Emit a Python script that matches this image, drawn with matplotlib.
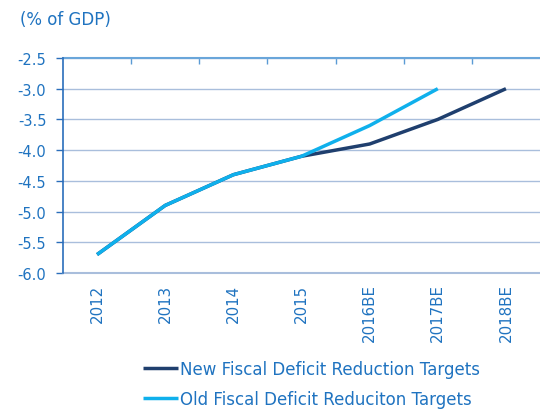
import matplotlib
matplotlib.use("Agg")
import matplotlib.pyplot as plt
from matplotlib.ticker import FixedLocator

plt.rcParams['font.family'] = ['DejaVu Sans']

categories = ["2012", "2013", "2014", "2015", "2016BE", "2017BE", "2018BE"]
new_targets = [-5.7, -4.9, -4.4, -4.1, -3.9, -3.5, -3.0]
old_targets = [-5.7, -4.9, -4.4, -4.1, -3.6, -3.0]
yticks = [-6.0, -5.5, -5.0, -4.5, -4.0, -3.5, -3.0, -2.5]

txt = '#1F73C0'
axis_blue = '#2A6EBB'
grid_c = '#A9BEDC'

fig = plt.figure(figsize=(5.4, 4.1), dpi=100)
ax = fig.add_axes([63/540, 1-274/410, 1-63/540, (274-59)/410])

x_new = list(range(len(new_targets)))
x_old = list(range(len(old_targets)))
ax.plot(x_new, new_targets, color='#1F3F6E', lw=2.5, solid_capstyle='butt',
        label='New Fiscal Deficit Reduction Targets', zorder=3)
ax.plot(x_old, old_targets, color='#0FB0EC', lw=2.5, solid_capstyle='butt',
        label='Old Fiscal Deficit Reduciton Targets', zorder=4)

ax.set_xlim(-0.5, len(categories)-0.5)
ax.set_ylim(-6.0, -2.5)
ax.set_yticks(yticks)
ax.set_yticklabels([f"{v:.1f}" for v in yticks], color=txt, fontsize=10.5)
ax.yaxis.grid(True, color=grid_c, lw=1.0)
ax.set_axisbelow(True)

ax.set_xticks(range(len(categories)))
ax.set_xticklabels(categories, rotation=90, color=txt, fontsize=10.8, va='top')
ax.tick_params(axis='x', which='major', length=0, pad=7.5)
ax.xaxis.set_minor_locator(FixedLocator([i+0.5 for i in range(len(categories)-1)]))
ax.tick_params(axis='x', which='minor', bottom=False, top=True, direction='in',
               length=4, color='#5B9BD5', width=1)
ax.tick_params(axis='y', which='major', length=5, color=axis_blue, width=1, pad=7)

ax.spines['right'].set_visible(False)
ax.spines['bottom'].set_color(grid_c)
ax.spines['bottom'].set_linewidth(1.5)
ax.spines['top'].set_color('#6AA6DA')
ax.spines['top'].set_linewidth(1.5)
ax.spines['left'].set_color(axis_blue)
ax.spines['left'].set_linewidth(1.2)
ax.spines['left'].set_zorder(5)

fig.text(20/540, 1-20/410, "(% of GDP)", color=txt, fontsize=12, va='center', ha='left')

leg = fig.legend(loc='center left', bbox_to_anchor=(143/540, 1-385/410), frameon=False,
                 fontsize=12, handlelength=2.1, handletextpad=0.1, labelspacing=0.75,
                 borderaxespad=0, borderpad=0)
for t in leg.get_texts():
    t.set_color(txt)

fig.savefig("out.png", dpi=100)
